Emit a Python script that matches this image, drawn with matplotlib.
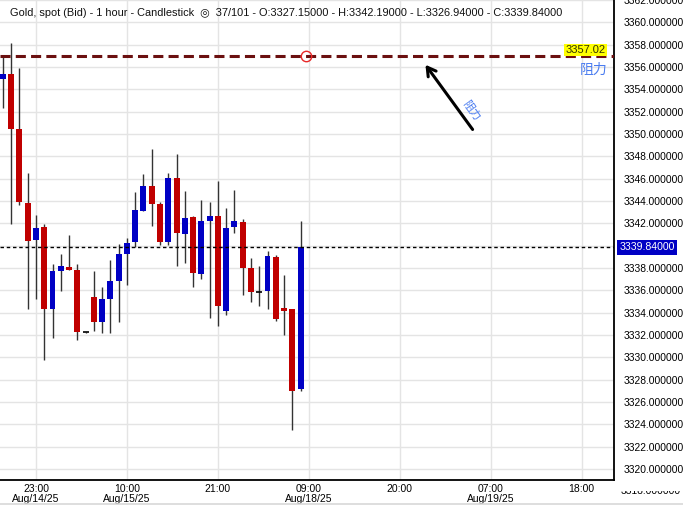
import matplotlib.pyplot as plt
import matplotlib.transforms as mtransforms
import numpy as np

# hourly candles, bar index 0 = Aug/14/25 23:00
bar_idx = list(range(-4, 33))
opens = [3354.90, 3355.35, 3350.45, 3343.80, 3340.52, 3341.66, 3334.35, 3337.72, 3338.08, 3337.81,
         3332.23, 3335.39, 3333.18, 3335.21, 3336.82, 3339.24, 3340.31, 3343.09, 3345.32, 3343.71,
         3340.31, 3346.04, 3341.03, 3342.55, 3337.45, 3342.19, 3342.64, 3334.14, 3341.66, 3342.10,
         3337.99, 3335.87, 3335.93, 3338.97, 3334.41, 3334.32, 3327.15]
highs = [3356.90, 3358.15, 3355.88, 3346.49, 3342.73, 3341.92, 3338.34, 3339.24, 3340.94, 3338.34,
         3332.28, 3337.72, 3336.29, 3338.70, 3340.13, 3340.67, 3344.79, 3346.40, 3348.64, 3343.89,
         3346.49, 3348.19, 3344.88, 3342.64, 3344.07, 3343.89, 3345.77, 3343.36, 3344.97, 3342.37,
         3338.88, 3338.17, 3339.51, 3339.15, 3337.36, 3334.32, 3342.19]
lows = [3352.33, 3341.95, 3343.60, 3334.35, 3335.24, 3329.78, 3331.75, 3335.96, 3337.83, 3331.57,
        3332.20, 3332.38, 3332.20, 3332.20, 3333.18, 3336.49, 3339.90, 3343.09, 3341.77, 3340.04,
        3340.04, 3338.17, 3338.43, 3336.29, 3337.00, 3333.51, 3332.80, 3333.78, 3341.12, 3335.57,
        3334.94, 3334.59, 3334.32, 3333.24, 3332.02, 3323.46, 3326.94]
closes = [3355.35, 3350.45, 3343.92, 3340.43, 3341.57, 3334.35, 3337.72, 3338.17, 3337.83, 3332.29,
          3332.23, 3333.18, 3335.21, 3336.82, 3339.24, 3340.22, 3343.18, 3345.32, 3343.71, 3340.31,
          3346.04, 3341.12, 3342.46, 3337.54, 3342.19, 3342.64, 3334.59, 3341.57, 3342.19, 3337.99,
          3335.84, 3335.87, 3339.06, 3333.42, 3334.17, 3327.01, 3339.84]

tick_pos = [0, 11, 22, 33, 44, 55, 66]
tick_labels = ["23:00\nAug/14/25", "10:00\nAug/15/25", "21:00", "09:00\nAug/18/25",
               "20:00", "07:00\nAug/19/25", "18:00"]
y_ticks = np.arange(3320, 3364, 2)

resistance = 3357.02
last_price = 3339.84

up_col = '#0000c4'
down_col = '#c00000'
lab_font = ['Liberation Sans', 'DejaVu Sans']
cjk_font = ['Noto Sans CJK SC', 'DejaVu Sans']

fig = plt.figure(figsize=(6.83, 5.05), dpi=100)
ax = fig.add_axes([0, 25 / 505, 614 / 683, 480 / 505])

# candles
for x, o, h, l, c in zip(bar_idx, opens, highs, lows, closes):
    ax.vlines(x, l, h, color='#333333', lw=1.0, zorder=2)
    if abs(c - o) < 0.01:
        ax.hlines(o, x - 0.36, x + 0.36, color='black', lw=1.2, zorder=3)
    else:
        col = up_col if c > o else down_col
        ax.bar(x, abs(c - o), bottom=min(o, c), width=0.72, color=col, lw=0, zorder=3)

# resistance line
ax.axhline(resistance - 0.08, color='#6b1010', lw=2.2, dashes=(3.3, 1.7), zorder=4)
ax.plot(32.6, resistance - 0.08, 'o', ms=7.5, mfc='none', mec='#e82828', mew=1, zorder=5)
ax.text(68.85, resistance + 0.5, "3357.02", fontsize=8, family=lab_font, color='#333300',
        ha='right', va='center', zorder=6,
        bbox=dict(facecolor='#ffff00', edgecolor='none', pad=1.0))
ax.text(67.4, 3355.7, "阻力", fontsize=10, color='#4a7cf0',
        family=cjk_font, ha='center', va='center', zorder=6)

# arrow and rotated label
ax.annotate("", xy=(46.9, 3356.4), xytext=(53.0, 3350.2),
            arrowprops=dict(arrowstyle='->,head_length=0.6,head_width=0.35', color='black', lw=2.2),
            zorder=6)
ax.text(52.6, 3352.1, "阻力", fontsize=8, color='#4a7cf0', rotation=-54,
        family=cjk_font, ha='center', va='center', zorder=6)

# last price line
ax.axhline(last_price, color='black', lw=1.0, dashes=(2.5, 2), zorder=4)
ax.text(1.0085, last_price, "3339.84000", transform=ax.get_yaxis_transform(), fontsize=7.6,
        family=lab_font, color='white', ha='left', va='center', clip_on=False,
        bbox=dict(facecolor='#0000c4', edgecolor='none', pad=1.8), zorder=7)

# header
ax.text(0.016, 0.984, "Gold, spot (Bid) - 1 hour - Candlestick  \u25ce  37/101 - O:3327.15000 - "
        "H:3342.19000 - L:3326.94000 - C:3339.84000",
        transform=ax.transAxes, fontsize=7.9, family=lab_font, color='#111111',
        ha='left', va='top', zorder=8)

ax.set_xticks(tick_pos)
ax.set_xticklabels(tick_labels, fontsize=7.5, family='Liberation Sans', linespacing=0.95)
ax.yaxis.tick_right()
ax.set_yticks(y_ticks)
# 3340 label sits under the last-price tag
ax.set_yticklabels(["" if v == 3340 else f"{v:.6f}" for v in y_ticks],
                   fontsize=7.4, family='Liberation Sans')
ax.set_xlim(-4.35, 69.9)
ax.set_ylim(3319.0, 3362.0)
ax.tick_params(length=0, pad=7)
ax.tick_params(axis='x', pad=3)
ax.grid(True, color='#e4e4e4', lw=1.0, zorder=0)
ax.set_axisbelow(True)
for s in ['left', 'top']:
    ax.spines[s].set_visible(False)
for s in ['right', 'bottom']:
    ax.spines[s].set_linewidth(1.3)
    ax.spines[s].set_color('black')

# partly hidden label below the axis, as in the source
t = ax.text(1.0115, 3318, "3318.000000", transform=ax.get_yaxis_transform(), fontsize=7.4,
            family='Liberation Sans', ha='left', va='center', clip_on=True)
t.set_clip_box(mtransforms.TransformedBbox(
    mtransforms.Bbox([[0.9, 0.0], [1.0, 14 / 505]]), fig.transFigure))

fig.add_artist(plt.Line2D([0, 1], [1.5 / 505, 1.5 / 505], color='#d8d8d8', lw=1.2))

plt.savefig("out.png", dpi=100)
